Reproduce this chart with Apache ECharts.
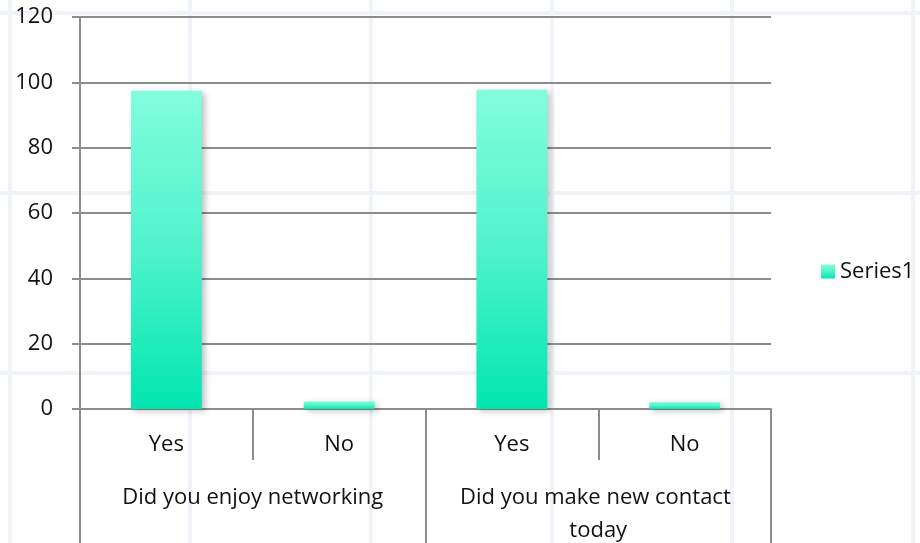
<!DOCTYPE html>
<html>
<head>
<meta charset="utf-8">
<script src="https://cdn.jsdelivr.net/npm/echarts@6/dist/echarts.min.js"></script>
<style>
  html, body { margin: 0; padding: 0; background: #fff; }
  #chart { width: 920px; height: 543px; }
</style>
</head>
<body>
<div id="chart"></div>
<script>
// answers per question, two levels on the x axis
const answers = ['Yes', 'No', 'Yes', 'No']
const questions = ['Did you enjoy networking', 'Did you make new contact today']
const series1 = [97.4, 2.3, 97.7, 2.1]
const yTicks = [0, 20, 40, 60, 80, 100, 120]

const font = '"Open Sans", Lato, sans-serif'
const axisGrey = '#8c8c8c'
const fs = 22

// faint background pattern
const bgLines = []
const bgX = [10, 190, 371, 552, 732, 913]
const bgY = [13, 193, 373]
bgX.forEach(x => bgLines.push({
  type: 'line', shape: { x1: x, y1: 0, x2: x, y2: 543 },
  style: { stroke: '#f0f4f8', lineWidth: 4 }, silent: true, z: -10
}))
bgY.forEach(y => bgLines.push({
  type: 'line', shape: { x1: 0, y1: y, x2: 920, y2: y },
  style: { stroke: '#f0f4f8', lineWidth: 4 }, silent: true, z: -10
}))

const chart = echarts.init(document.getElementById('chart'), null, { renderer: 'canvas' })

chart.setOption({
  backgroundColor: '#fff',
  animation: false,
  textStyle: { fontFamily: font },
  graphic: bgLines,
  grid: { left: 80, right: 149, top: 17, bottom: 134, containLabel: false, outerBoundsMode: 'none' },
  legend: {
    left: 816,
    top: 'middle',
    orient: 'vertical',
    itemWidth: 14,
    itemHeight: 14,
    icon: 'rect',
    textStyle: { fontSize: fs, color: '#111', fontFamily: font },
    data: ['Series1']
  },
  xAxis: [
    {
      type: 'category',
      data: answers,
      position: 'bottom',
      axisLine: { show: true, lineStyle: { color: axisGrey, width: 2 } },
      axisTick: { show: true, length: 51, lineStyle: { color: axisGrey, width: 2 } },
      axisLabel: { interval: 0, fontSize: fs, color: '#111', margin: 25, fontFamily: font }
    },
    {
      type: 'category',
      data: questions,
      position: 'bottom',
      axisLine: { show: false },
      axisTick: { show: true, length: 134, lineStyle: { color: axisGrey, width: 2 } },
      axisLabel: {
        interval: 0, fontSize: fs, color: '#111', margin: 72, fontFamily: font,
        width: 290, overflow: 'break', lineHeight: 33
      }
    }
  ],
  yAxis: {
    type: 'value',
    min: yTicks[0],
    max: yTicks[yTicks.length - 1],
    interval: 20,
    axisLine: { show: true, lineStyle: { color: axisGrey, width: 2 } },
    axisTick: { show: true, length: 8, lineStyle: { color: axisGrey, width: 2 } },
    splitLine: { show: true, lineStyle: { color: axisGrey, width: 2 } },
    axisLabel: { fontSize: fs, color: '#111', margin: 27, fontFamily: font }
  },
  series: [{
    name: 'Series1',
    type: 'bar',
    xAxisIndex: 0,
    data: series1,
    barWidth: '41%',
    itemStyle: {
      color: new echarts.graphic.LinearGradient(0, 0, 0, 1, [
        { offset: 0, color: '#82fddd' },
        { offset: 0.5, color: '#4ff3cb' },
        { offset: 1, color: '#00e6b0' }
      ]),
      shadowColor: 'rgba(0,0,0,0.25)',
      shadowBlur: 6,
      shadowOffsetX: 3,
      shadowOffsetY: 2
    }
  }]
})
</script>
</body>
</html>
